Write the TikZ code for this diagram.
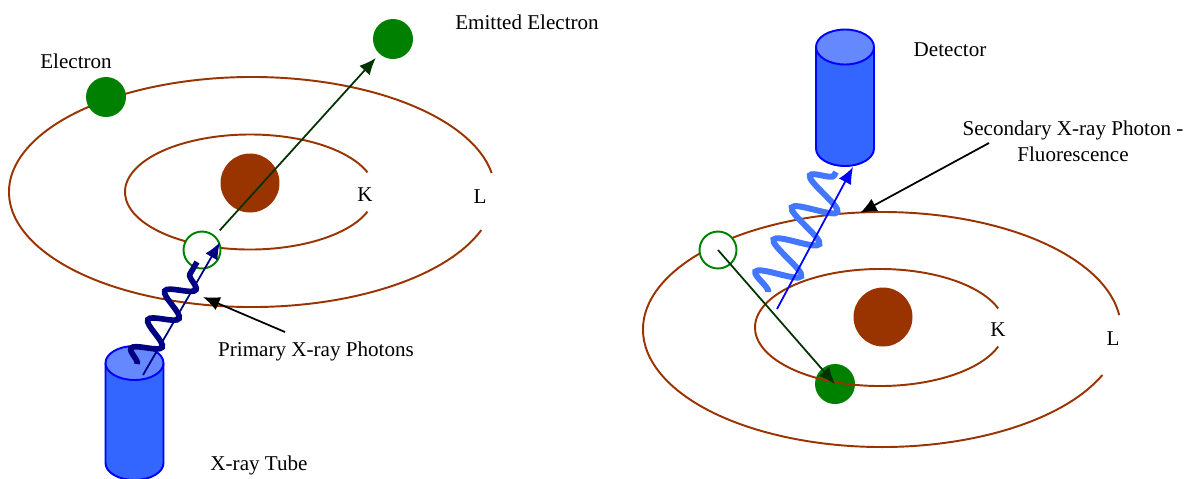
\documentclass[tikz,border=0pt]{standalone}
\usepackage{fontspec}
\setmainfont{Liberation Serif}
\usepackage{tikz}
\usetikzlibrary{calc, arrows.meta, decorations.pathmorphing}
\definecolor{orbit}{RGB}{153,51,0}
\definecolor{elgreen}{RGB}{0,128,0}
\definecolor{arrgreen}{RGB}{0,51,0}
\definecolor{tubeblue}{RGB}{51,102,255}
\definecolor{tubetop}{RGB}{102,136,255}
\definecolor{wavelight}{RGB}{68,119,255}
\definecolor{wavenavy}{RGB}{0,0,128}
\tikzstyle{shell}=[draw=orbit, line width=1.1pt]
\tikzstyle{nucl}=[circle, fill=orbit, minimum size=1.18cm, inner sep=0pt]
\tikzstyle{elec}=[circle, fill=elgreen, minimum size=0.8cm, inner sep=0pt]
\tikzstyle{hole}=[circle, draw=elgreen, fill=white, line width=1.1pt, minimum size=0.74cm, inner sep=0pt]
\tikzstyle{lbl}=[font=\fontsize{12}{15}\selectfont, align=center]
\tikzstyle{kick}=[->, draw=arrgreen, line width=1pt]
\tikzstyle{pointer}=[->, draw=black, line width=1pt]
\tikzstyle{can}=[draw=blue, line width=1.1pt]
\tikzstyle{wave}=[decorate, line width=3pt]

\begin{document}
\begin{tikzpicture}[x=0.02cm, y=-0.02cm, >={Latex[length=9.5pt,width=8pt]}]
  \useasboundingbox (0,0) rectangle (1189,478);

  % primary side
  \draw[shell] (252,192) ++(19.3:243 and 115) arc[start angle=19.3, end angle=350.5, x radius=243, y radius=115];
  \draw[shell] (250,192) ++(20:125 and 57.5) arc[start angle=20, end angle=340, x radius=125, y radius=57.5];
  \node[nucl] (n1) at (250,183) {};
  \node[elec] (e1) at (106,97) {};
  \node[elec] (em) at (393,39) {};
  \node[hole] (h1) at (202,250) {};
  \node[lbl] (k1) at (365,195) {K};
  \node[lbl] (l1) at (480,197) {L};
  \node[lbl] (te1) at (76,61) {Electron};
  \node[lbl] (tem) at (527,22) {Emitted Electron};
  \draw[kick, shorten <=4pt, shorten >=3pt] (h1) -- (em);

  \filldraw[can, fill=tubeblue] (105.5,363) -- (105.5,463) arc[start angle=180, end angle=0, x radius=29, y radius=17] -- (163.5,363);
  \filldraw[can, fill=tubetop] (134.5,363) ellipse [x radius=29, y radius=17];
  \node[lbl] (ttube) at (259,465) {X-ray Tube};
  \coordinate (tube) at (143,375);
  \coordinate (w1a) at (137,364);
  \coordinate (w1b) at (197,262);
  \draw[wave, draw=wavenavy, line width=3.2pt, decoration={snake, amplitude=7.5pt, segment length=19pt}] (w1a) -- (w1b);
  \draw[->, draw=wavenavy, line width=1pt] (tube) -- (h1.23);

  \node[lbl] (lp) at (316,351) {Primary X-ray Photons};
  \coordinate (lpa) at (285,332);
  \coordinate (lpb) at (203,297);
  \draw[pointer] (lpa) -- (lpb);

  % fluorescence side
  \node[elec] (e2) at (835,384) {};
  \draw[shell] (882,329.5) ++(22.8:239 and 117.5) arc[start angle=22.8, end angle=353, x radius=239, y radius=117.5];
  \draw[shell] (880,327.5) ++(19:125 and 58.5) arc[start angle=19, end angle=341, x radius=125, y radius=58.5];
  \node[nucl] (n2) at (883,317) {};
  \node[hole] (h2) at (718,250) {};
  \node[lbl] (k2) at (998,330) {K};
  \node[lbl] (l2) at (1113,339) {L};

  \filldraw[can, fill=tubeblue] (816,47) -- (816,148.5) arc[start angle=180, end angle=0, x radius=29, y radius=17.5] -- (874,47);
  \filldraw[can, fill=tubetop] (845,47) ellipse [x radius=29, y radius=17.5];
  \node[lbl] (tdet) at (950,50) {Detector};
  \coordinate (src) at (777,309);
  \coordinate (det) at (853,167);
  \coordinate (w2a) at (768,292);
  \coordinate (w2b) at (836,172);
  \draw[wave, draw=wavelight, line width=3.4pt, decoration={snake, amplitude=12pt, segment length=21pt}] (w2a) -- (w2b);
  \draw[->, draw=blue, line width=1pt] (src) -- (det);
  \draw[kick] (h2.center) -- (e2.center);

  \node[lbl] (ls) at (1073,141) {Secondary X-ray Photon -\\Fluorescence};
  \coordinate (lsa) at (989,143);
  \coordinate (lsb) at (860,213);
  \draw[pointer] (lsa) -- (lsb);
\end{tikzpicture}
\end{document}
